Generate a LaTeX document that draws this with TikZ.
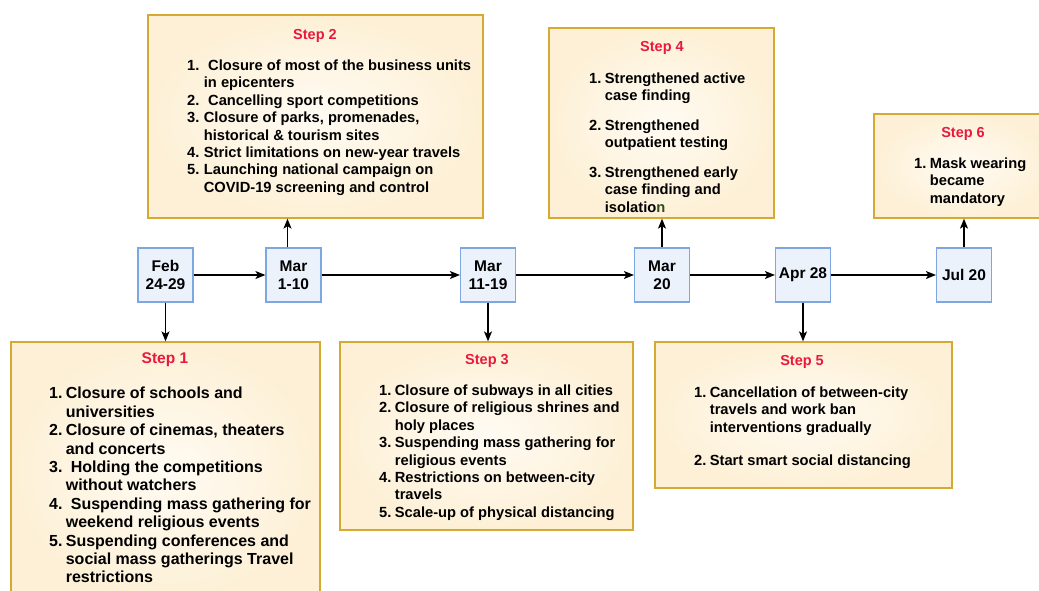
\documentclass[tikz,border=0pt]{standalone}
\usepackage{fontspec}
\setmainfont{Liberation Sans}
\usetikzlibrary{arrows.meta}
\definecolor{boxgold}{HTML}{D6A933}
\definecolor{boxin}{HTML}{FFFBF3}
\definecolor{boxout}{HTML}{FDF0D6}
\definecolor{datefill}{HTML}{EBF2FC}
\definecolor{dateline}{HTML}{7EA6E0}
\definecolor{titlered}{HTML}{E8193D}
\definecolor{oddgreen}{HTML}{2E4A1E}
\begin{document}
\begin{tikzpicture}[x=1pt,y=-1pt,
  stepbox/.style={draw=boxgold, line width=1.3pt, inner color=boxin, outer color=boxout, rectangle, inner sep=0pt},
  datebox/.style={draw=dateline, line width=1.2pt, fill=datefill, minimum width=55pt, minimum height=54pt, inner sep=0pt, font=\bfseries\fontsize{15.5}{18}\selectfont, align=center},
  titletext/.style={text=titlered, font=\bfseries\fontsize{14.5}{17}\selectfont, anchor=base, inner sep=0pt},
  listtext/.style={anchor=north west, inner sep=0pt, align=left, font=\bfseries\fontsize{14.7}{17.4}\selectfont},
  conn/.style={line width=1.3pt, -{Stealth[length=10pt,width=8pt,inset=2.5pt]}}]
\clip (0,0) rectangle (1039,590);
\fill[white] (0,0) rectangle (1039,590);

% step boxes
\node[stepbox, minimum width=309pt, minimum height=258pt] (s1) at (165.5,471) {};
\node[stepbox, minimum width=335pt, minimum height=203pt] (s2) at (315.5,116.5) {};
\node[stepbox, minimum width=293pt, minimum height=188pt] (s3) at (486.5,436) {};
\node[stepbox, minimum width=225pt, minimum height=190pt] (s4) at (661.5,123) {};
\node[stepbox, minimum width=297pt, minimum height=146pt] (s5) at (803.5,415) {};
\node[stepbox, minimum width=178pt, minimum height=104pt] (s6) at (963,166) {};

% titles
\node[titletext, font=\bfseries\fontsize{15.5}{18}\selectfont] (t1) at (165,363.6) {Step 1};
\node[titletext] (t2) at (315,39.2) {Step 2};
\node[titletext] (t3) at (487,364.2) {Step 3};
\node[titletext] (t4) at (662,51.2) {Step 4};
\node[titletext] (t5) at (802,365.2) {Step 5};
\node[titletext] (t6) at (963,137.2) {Step 6};

% lists
\node[listtext, font=\bfseries\fontsize{16}{18.4}\selectfont] (l1) at (49,385.9) {%
\begin{tabular}{@{}l@{\hspace{3.3pt}}l@{}}
1. & Closure of schools and\\
   & universities\\
2. & Closure of cinemas, theaters\\
   & and concerts\\
3. & \hspace{5pt}Holding the competitions\\
   & without watchers\\
4. & \hspace{5pt}Suspending mass gathering for\\
   & weekend religious events\\
5. & Suspending conferences and\\
   & social mass gatherings Travel\\
   & restrictions
\end{tabular}};

\node[listtext] (l2) at (187,58.1) {%
\begin{tabular}{@{}l@{\hspace{4.4pt}}l@{}}
1. & \hspace{4.3pt}Closure of most of the business units\\
   & in epicenters\\
2. & \hspace{4.3pt}Cancelling sport competitions\\
3. & Closure of parks, promenades,\\
   & historical \& tourism sites\\
4. & Strict limitations on new-year travels\\
5. & Launching national campaign on\\
   & COVID-19 screening and control
\end{tabular}};

\node[listtext] (l3) at (379,383.1) {%
\begin{tabular}{@{}l@{\hspace{3.4pt}}l@{}}
1. & Closure of subways in all cities\\
2. & Closure of religious shrines and\\
   & holy places\\
3. & Suspending mass gathering for\\
   & religious events\\
4. & Restrictions on between-city\\
   & travels\\
5. & Scale-up of physical distancing
\end{tabular}};

\node[listtext] (l4) at (589,71.1) {%
\begin{tabular}{@{}l@{\hspace{3.4pt}}l@{}}
1. & Strengthened active\\
   & case finding\\[12pt]
2. & Strengthened\\
   & outpatient testing\\[12.5pt]
3. & Strengthened early\\
   & case finding and\\
   & isolatio{\color{oddgreen}n}
\end{tabular}};

\node[listtext] (l5) at (694,385.1) {%
\begin{tabular}{@{}l@{\hspace{3.4pt}}l@{}}
1. & Cancellation of between-city\\
   & travels and work ban\\
   & interventions gradually\\[15.6pt]
2. & Start smart social distancing
\end{tabular}};

\node[listtext] (l6) at (914,156.1) {%
\begin{tabular}{@{}l@{\hspace{3.4pt}}l@{}}
1. & Mask wearing\\
   & became\\
   & mandatory
\end{tabular}};

% date boxes
\node[datebox] (d1) at (165.5,275) {Feb\\24-29};
\node[datebox] (d2) at (293.5,275) {Mar\\1-10};
\node[datebox] (d3) at (488,275) {Mar\\11-19};
\node[datebox] (d4) at (662,275) {Mar\\20};
\node[datebox] (d5) at (803,275) {Apr 28};
\node[datebox] (d6) at (964,275) {Jul 20};

% timeline
\draw[conn] (d1) -- (d2);
\draw[conn] (d2) -- (d3);
\draw[conn] (d3) -- (d4);
\draw[conn] (d4) -- (d5);
\draw[conn] (d5) -- (d6);

% to steps
\draw[conn] (d1.south) -- (d1.south |- s1.north);
\draw[conn] ([xshift=-6pt]d2.north) -- ([xshift=-6pt]d2.north |- s2.south);
\draw[conn] (d3.south) -- (d3.south |- s3.north);
\draw[conn] (d4.north) -- (d4.north |- s4.south);
\draw[conn] (d5.south) -- (d5.south |- s5.north);
\draw[conn] (d6.north) -- (d6.north |- s6.south);
\end{tikzpicture}
\end{document}
